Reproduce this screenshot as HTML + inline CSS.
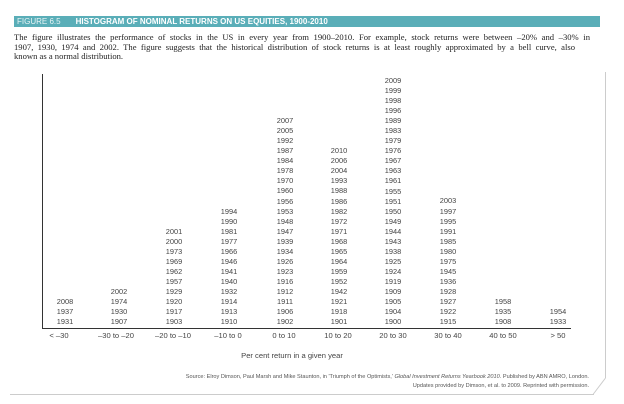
<!DOCTYPE html>
<html><head><meta charset="utf-8"><style>
body{margin:0;width:624px;height:404px;background:#fff;position:relative;overflow:hidden;font-family:"Liberation Sans",sans-serif}
.ban{position:absolute;left:14px;top:16px;width:586px;height:11px;background:#5aaeb8;color:#fff;font-size:8px;line-height:11px;font-weight:bold;white-space:nowrap}
.cap{position:absolute;left:14px;top:33px;width:576px;font-family:"Liberation Serif",serif;font-size:8.6px;line-height:9.6px;color:#222}
.cap div{text-align:justify;text-align-last:justify;white-space:nowrap}
.cap div.l{text-align-last:left}
.col{position:absolute;width:40px;text-align:center;font-size:7.4px;color:#444;line-height:10.04px}
.xl{position:absolute;top:331px;width:60px;text-align:center;font-size:7.6px;color:#444}
</style></head><body>
<div class="ban"><span style="font-weight:normal;margin-left:3px;color:#e8f4f5">FIGURE 6.5</span><span style="margin-left:15px">HISTOGRAM OF NOMINAL RETURNS ON US EQUITIES, 1900-2010</span></div>
<div class="cap"><div style="white-space:normal;height:9.6px;overflow:hidden">The figure illustrates the performance of stocks in the US in every year from 1900–2010. For example, stock returns were between –20% and –30% in</div><div style="white-space:normal;height:9.6px;overflow:hidden;width:561px">1907, 1930, 1974 and 2002. The figure suggests that the historical distribution of stock returns is at least roughly approximated by a bell curve, also</div><div class="l">known as a normal distribution.</div></div>
<div style="position:absolute;left:42px;top:74px;width:1px;height:254px;background:#333"></div>
<div style="position:absolute;left:42px;top:328px;width:529px;height:1px;background:#333"></div>
<div style="position:absolute;left:605px;top:72px;width:1px;height:306px;background:#ccc"></div>
<div style="position:absolute;left:10px;top:394px;width:584px;height:1px;background:#ccc"></div>
<svg style="position:absolute;left:590px;top:375px" width="20" height="22"><line x1="15.5" y1="3" x2="3" y2="19.5" stroke="#ccc"/></svg>
<div id="c"></div>
<div class="xl" style="left:29px">&lt; –30</div>
<div class="xl" style="left:86px">–30 to –20</div>
<div class="xl" style="left:143px">–20 to –10</div>
<div class="xl" style="left:198px">–10 to 0</div>
<div class="xl" style="left:254px">0 to 10</div>
<div class="xl" style="left:308px">10 to 20</div>
<div class="xl" style="left:363px">20 to 30</div>
<div class="xl" style="left:418px">30 to 40</div>
<div class="xl" style="left:473px">40 to 50</div>
<div class="xl" style="left:528px">&gt; 50</div>
<div style="position:absolute;left:192px;top:351px;width:200px;text-align:center;font-size:7.6px;color:#444">Per cent return in a given year</div>
<div style="position:absolute;right:35px;top:373px;text-align:right;font-size:5.6px;line-height:8.6px;color:#555;white-space:nowrap">Source: Elroy Dimson, Paul Marsh and Mike Staunton, in 'Triumph of the Optimists,' <i>Global Investment Returns Yearbook 2010</i>. Published by ABN AMRO, London.<br>Updates provided by Dimson, et al. to 2009. Reprinted with permission.</div>
<script>
var d=[[65,"2008 1937 1931"],[119,"2002 1974 1930 1907"],[174,"2001 2000 1973 1969 1962 1957 1929 1920 1917 1903"],[229,"1994 1990 1981 1977 1966 1946 1941 1940 1932 1914 1913 1910"],[285,"2007 2005 1992 1987 1984 1978 1970 1960 1956 1953 1948 1947 1939 1934 1926 1923 1916 1912 1911 1906 1902"],[339,"2010 2006 2004 1993 1988 1986 1982 1972 1971 1968 1965 1964 1959 1952 1942 1921 1918 1901"],[393,"2009 1999 1998 1996 1989 1983 1979 1976 1967 1963 1961 1955 1951 1950 1949 1944 1943 1938 1925 1924 1919 1909 1905 1904 1900"],[448,"2003 1997 1995 1991 1985 1980 1975 1945 1936 1928 1927 1922 1915"],[503,"1958 1935 1908"],[558,"1954 1933"]];
var h="";d.forEach(function(c){var y=c[1].split(" ");h+='<div class="col" style="left:'+(c[0]-20)+'px;top:'+(327-y.length*10.04)+'px">'+y.join("<br>")+'</div>';});
document.getElementById("c").innerHTML=h;
</script>
</body></html>
